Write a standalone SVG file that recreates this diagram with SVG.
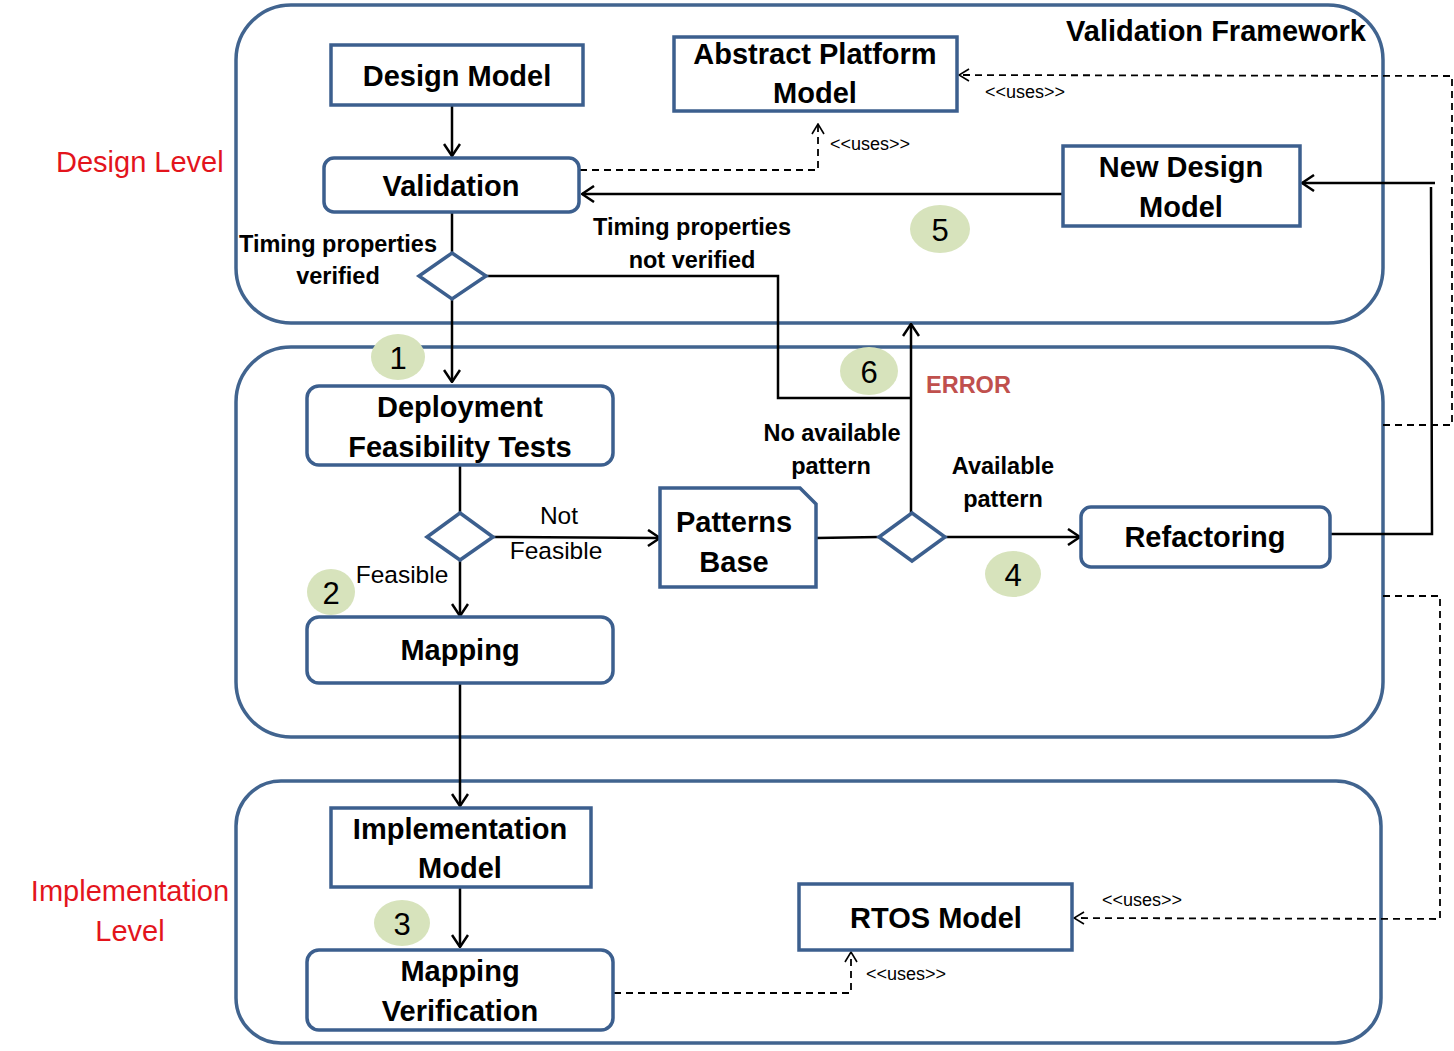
<svg xmlns="http://www.w3.org/2000/svg" width="1454" height="1051" viewBox="0 0 1454 1051">
<defs>
<style>
.cont{fill:none;stroke:#41648F;stroke-width:3.5}
.node{fill:#fff;stroke:#3C5F8E;stroke-width:3.5}
.ln{fill:none;stroke:#000;stroke-width:2.5}
.dl{fill:none;stroke:#000;stroke-width:1.8;stroke-dasharray:7,5}
.t{font-family:"Liberation Sans",Arial,sans-serif;font-weight:bold;font-size:29px;fill:#000;text-anchor:middle}
.lb{font-family:"Liberation Sans",Arial,sans-serif;font-weight:bold;font-size:23.5px;fill:#000;text-anchor:middle}
.ln2{font-family:"Liberation Sans",Arial,sans-serif;font-size:24.5px;fill:#000;text-anchor:middle}
.red{font-family:"Liberation Sans",Arial,sans-serif;font-size:29px;fill:#E3141C}
.uses{font-family:"Liberation Sans",Arial,sans-serif;font-size:18px;fill:#000}
.num{fill:#D7E3BC}
.nt{font-family:"Liberation Sans",Arial,sans-serif;font-size:31px;fill:#000;text-anchor:middle}
</style>
<marker id="ah" viewBox="0 0 14 18" refX="13" refY="9" markerWidth="14" markerHeight="18" markerUnits="userSpaceOnUse" orient="auto">
<path d="M1,1 L13,9 L1,17" fill="none" stroke="#000" stroke-width="2.5"/>
</marker>
<marker id="ahd" viewBox="0 0 12 14" refX="11" refY="7" markerWidth="12" markerHeight="14" markerUnits="userSpaceOnUse" orient="auto">
<path d="M1,1 L11,7 L1,13" fill="none" stroke="#000" stroke-width="1.6"/>
</marker>
</defs>
<rect width="1454" height="1051" fill="#fff"/>

<g id="containers">
<rect class="cont" x="236" y="5" width="1147" height="318" rx="55"/>
<rect class="cont" x="236" y="347" width="1147" height="390" rx="55"/>
<rect class="cont" x="236" y="781" width="1145" height="262" rx="45"/>
</g>

<g id="level-labels">
<text class="red" x="56" y="172">Design Level</text>
<text class="red" x="130" y="901" style="text-anchor:middle">Implementation</text>
<text class="red" x="130" y="941" style="text-anchor:middle">Level</text>
<text class="t" x="1216" y="41">Validation Framework</text>
</g>

<g id="connectors">
<line class="ln" x1="452" y1="105" x2="452" y2="156" marker-end="url(#ah)"/>
<line class="ln" x1="1062" y1="194" x2="582" y2="194" marker-end="url(#ah)"/>
<line class="ln" x1="452" y1="212" x2="452" y2="253"/>
<line class="ln" x1="452" y1="299" x2="452" y2="382" marker-end="url(#ah)"/>
<polyline class="ln" points="486,276 778,276 778,398 911,398"/>
<line class="ln" x1="911" y1="513" x2="911" y2="324" marker-end="url(#ah)"/>
<line class="ln" x1="460" y1="465" x2="460" y2="513"/>
<line class="ln" x1="493" y1="537" x2="660" y2="538" marker-end="url(#ah)"/>
<line class="ln" x1="460" y1="560" x2="460" y2="616" marker-end="url(#ah)"/>
<line class="ln" x1="460" y1="683" x2="460" y2="806" marker-end="url(#ah)"/>
<line class="ln" x1="460" y1="887" x2="460" y2="947" marker-end="url(#ah)"/>
<line class="ln" x1="816" y1="538" x2="879" y2="537"/>
<line class="ln" x1="945" y1="537" x2="1080" y2="537" marker-end="url(#ah)"/>
<polyline class="ln" points="1330,534 1432,534 1431,187"/>
<line class="ln" x1="1435" y1="183" x2="1302" y2="183" marker-end="url(#ah)"/>
<polyline class="dl" points="580,170 818,170 818,124" marker-end="url(#ahd)"/>
<polyline class="dl" points="1383,425 1452,425 1452,76 959,75" marker-end="url(#ahd)"/>
<polyline class="dl" points="1383,596 1440,596 1440,919 1074,918" marker-end="url(#ahd)"/>
<polyline class="dl" points="614,993 851,993 851,952" marker-end="url(#ahd)"/>
<text class="uses" x="985" y="98">&lt;&lt;uses&gt;&gt;</text>
<text class="uses" x="830" y="150">&lt;&lt;uses&gt;&gt;</text>
<text class="uses" x="1102" y="906">&lt;&lt;uses&gt;&gt;</text>
<text class="uses" x="866" y="980">&lt;&lt;uses&gt;&gt;</text>
<text class="lb" x="338" y="252">Timing properties</text>
<text class="lb" x="338" y="284">verified</text>
<text class="lb" x="692" y="235">Timing properties</text>
<text class="lb" x="692" y="268">not verified</text>
<text class="lb" x="832" y="441">No available</text>
<text class="lb" x="831" y="474">pattern</text>
<text class="lb" x="1003" y="474">Available</text>
<text class="lb" x="1003" y="507">pattern</text>
<text class="lb" x="926" y="393" style="text-anchor:start;fill:#C0504D">ERROR</text>
<text class="ln2" x="559" y="524">Not</text>
<text class="ln2" x="556" y="559">Feasible</text>
<text class="ln2" x="402" y="583">Feasible</text>
</g>

<g id="design-model">
<rect class="node" x="331" y="45" width="252" height="60"/>
<text class="t" x="457" y="86">Design Model</text>
</g>
<g id="abstract-platform-model">
<rect class="node" x="674" y="37" width="283" height="74"/>
<text class="t" x="815" y="64">Abstract Platform</text>
<text class="t" x="815" y="103">Model</text>
</g>
<g id="validation">
<rect class="node" x="324" y="158" width="255" height="54" rx="10"/>
<text class="t" x="451" y="196">Validation</text>
</g>
<g id="new-design-model">
<rect class="node" x="1063" y="146" width="237" height="80"/>
<text class="t" x="1181" y="177">New Design</text>
<text class="t" x="1181" y="217">Model</text>
</g>
<g id="decision-timing">
<polygon class="node" points="452,253 486,276 452,299 419,276"/>
</g>
<g id="deployment-feasibility-tests">
<rect class="node" x="307" y="386" width="306" height="79" rx="12"/>
<text class="t" x="460" y="417">Deployment</text>
<text class="t" x="460" y="457">Feasibility Tests</text>
</g>
<g id="decision-feasible">
<polygon class="node" points="460,513 493,537 460,560 427,537"/>
</g>
<g id="patterns-base">
<path class="node" d="M660,488 L800,488 L816,504 L816,587 L660,587 Z"/>
<text class="t" x="734" y="532">Patterns</text>
<text class="t" x="734" y="572">Base</text>
</g>
<g id="decision-pattern">
<polygon class="node" points="912,513 945,537 912,561 879,537"/>
</g>
<g id="refactoring">
<rect class="node" x="1081" y="507" width="249" height="60" rx="10"/>
<text class="t" x="1205" y="547">Refactoring</text>
</g>
<g id="mapping">
<rect class="node" x="307" y="617" width="306" height="66" rx="12"/>
<text class="t" x="460" y="660">Mapping</text>
</g>
<g id="implementation-model">
<rect class="node" x="331" y="808" width="260" height="79"/>
<text class="t" x="460" y="839">Implementation</text>
<text class="t" x="460" y="878">Model</text>
</g>
<g id="rtos-model">
<rect class="node" x="799" y="884" width="273" height="66"/>
<text class="t" x="936" y="928">RTOS Model</text>
</g>
<g id="mapping-verification">
<rect class="node" x="307" y="950" width="306" height="80" rx="12"/>
<text class="t" x="460" y="981">Mapping</text>
<text class="t" x="460" y="1021">Verification</text>
</g>

<g id="step-numbers">
<ellipse class="num" cx="398" cy="357" rx="27" ry="23"/><text class="nt" x="398" y="369">1</text>
<ellipse class="num" cx="331" cy="592" rx="24" ry="23"/><text class="nt" x="331" y="604">2</text>
<ellipse class="num" cx="402" cy="923" rx="28" ry="23"/><text class="nt" x="402" y="935">3</text>
<ellipse class="num" cx="1013" cy="574" rx="28" ry="23"/><text class="nt" x="1013" y="586">4</text>
<ellipse class="num" cx="940" cy="229" rx="30" ry="24"/><text class="nt" x="940" y="241">5</text>
<ellipse class="num" cx="869" cy="371" rx="29" ry="24"/><text class="nt" x="869" y="383">6</text>
</g>
</svg>
